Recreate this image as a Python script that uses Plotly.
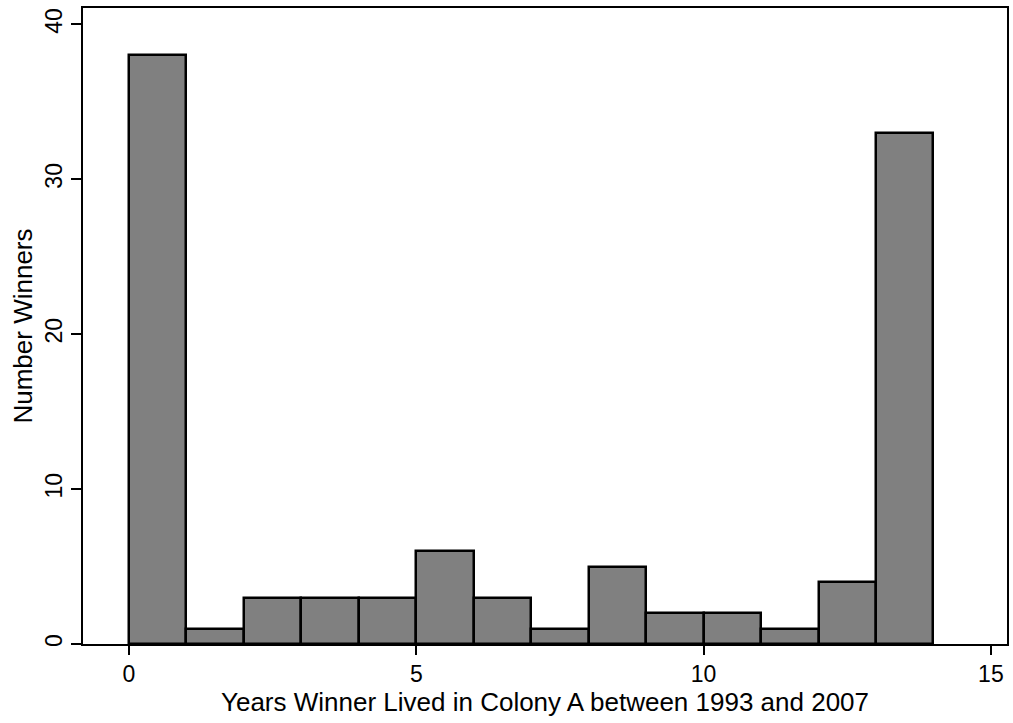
import plotly.graph_objects as go

bin_starts = [0, 1, 2, 3, 4, 5, 6, 7, 8, 9, 10, 11, 12, 13]
counts = [38, 1, 3, 3, 3, 6, 3, 1, 5, 2, 2, 1, 4, 33]
x_ticks = [0, 5, 10, 15]
y_ticks = [0, 10, 20, 30, 40]

fig = go.Figure(go.Bar(
    x=bin_starts, y=counts, width=[1] * len(bin_starts), offset=0,
    marker=dict(color="#808080", line=dict(color="black", width=2.5)),
))

font = "Liberation Sans, Arial, Helvetica, sans-serif"
tickfont = dict(family=font, size=23, color="black")
titlefont = dict(family=font, size=26, color="black")
fig.update_layout(
    width=1013, height=723,
    margin=dict(l=83, r=6, t=8, b=79, autoexpand=False),
    plot_bgcolor="white", paper_bgcolor="white",
    font=dict(family=font, size=23, color="black"),
    showlegend=False, bargap=0,
)
fig.update_xaxes(
    range=[-0.8, 15.28], tickvals=x_ticks, ticks="outside", ticklen=9, tickwidth=1.5,
    tickcolor="black", showline=True, linecolor="black", linewidth=1.5, mirror=True,
    showgrid=False, zeroline=False, automargin=False,
    tickfont=tickfont,
    title=dict(text="Years Winner Lived in Colony A between 1993 and 2007",
               font=titlefont, standoff=4),
)
fig.update_yaxes(
    range=[0, 41.06], tickvals=y_ticks, ticks="outside", ticklen=10, tickwidth=1.5,
    tickcolor="black", showline=True, linecolor="black", linewidth=1.5, mirror=True,
    showgrid=False, zeroline=False, tickangle=-90, automargin=False,
    tickfont=tickfont,
    title=dict(text="Number Winners", font=titlefont, standoff=1),
)
fig.write_html("out.html", config={"displayModeBar": False},
               post_script="document.body.style.margin='0px';document.body.style.overflow='hidden';")
